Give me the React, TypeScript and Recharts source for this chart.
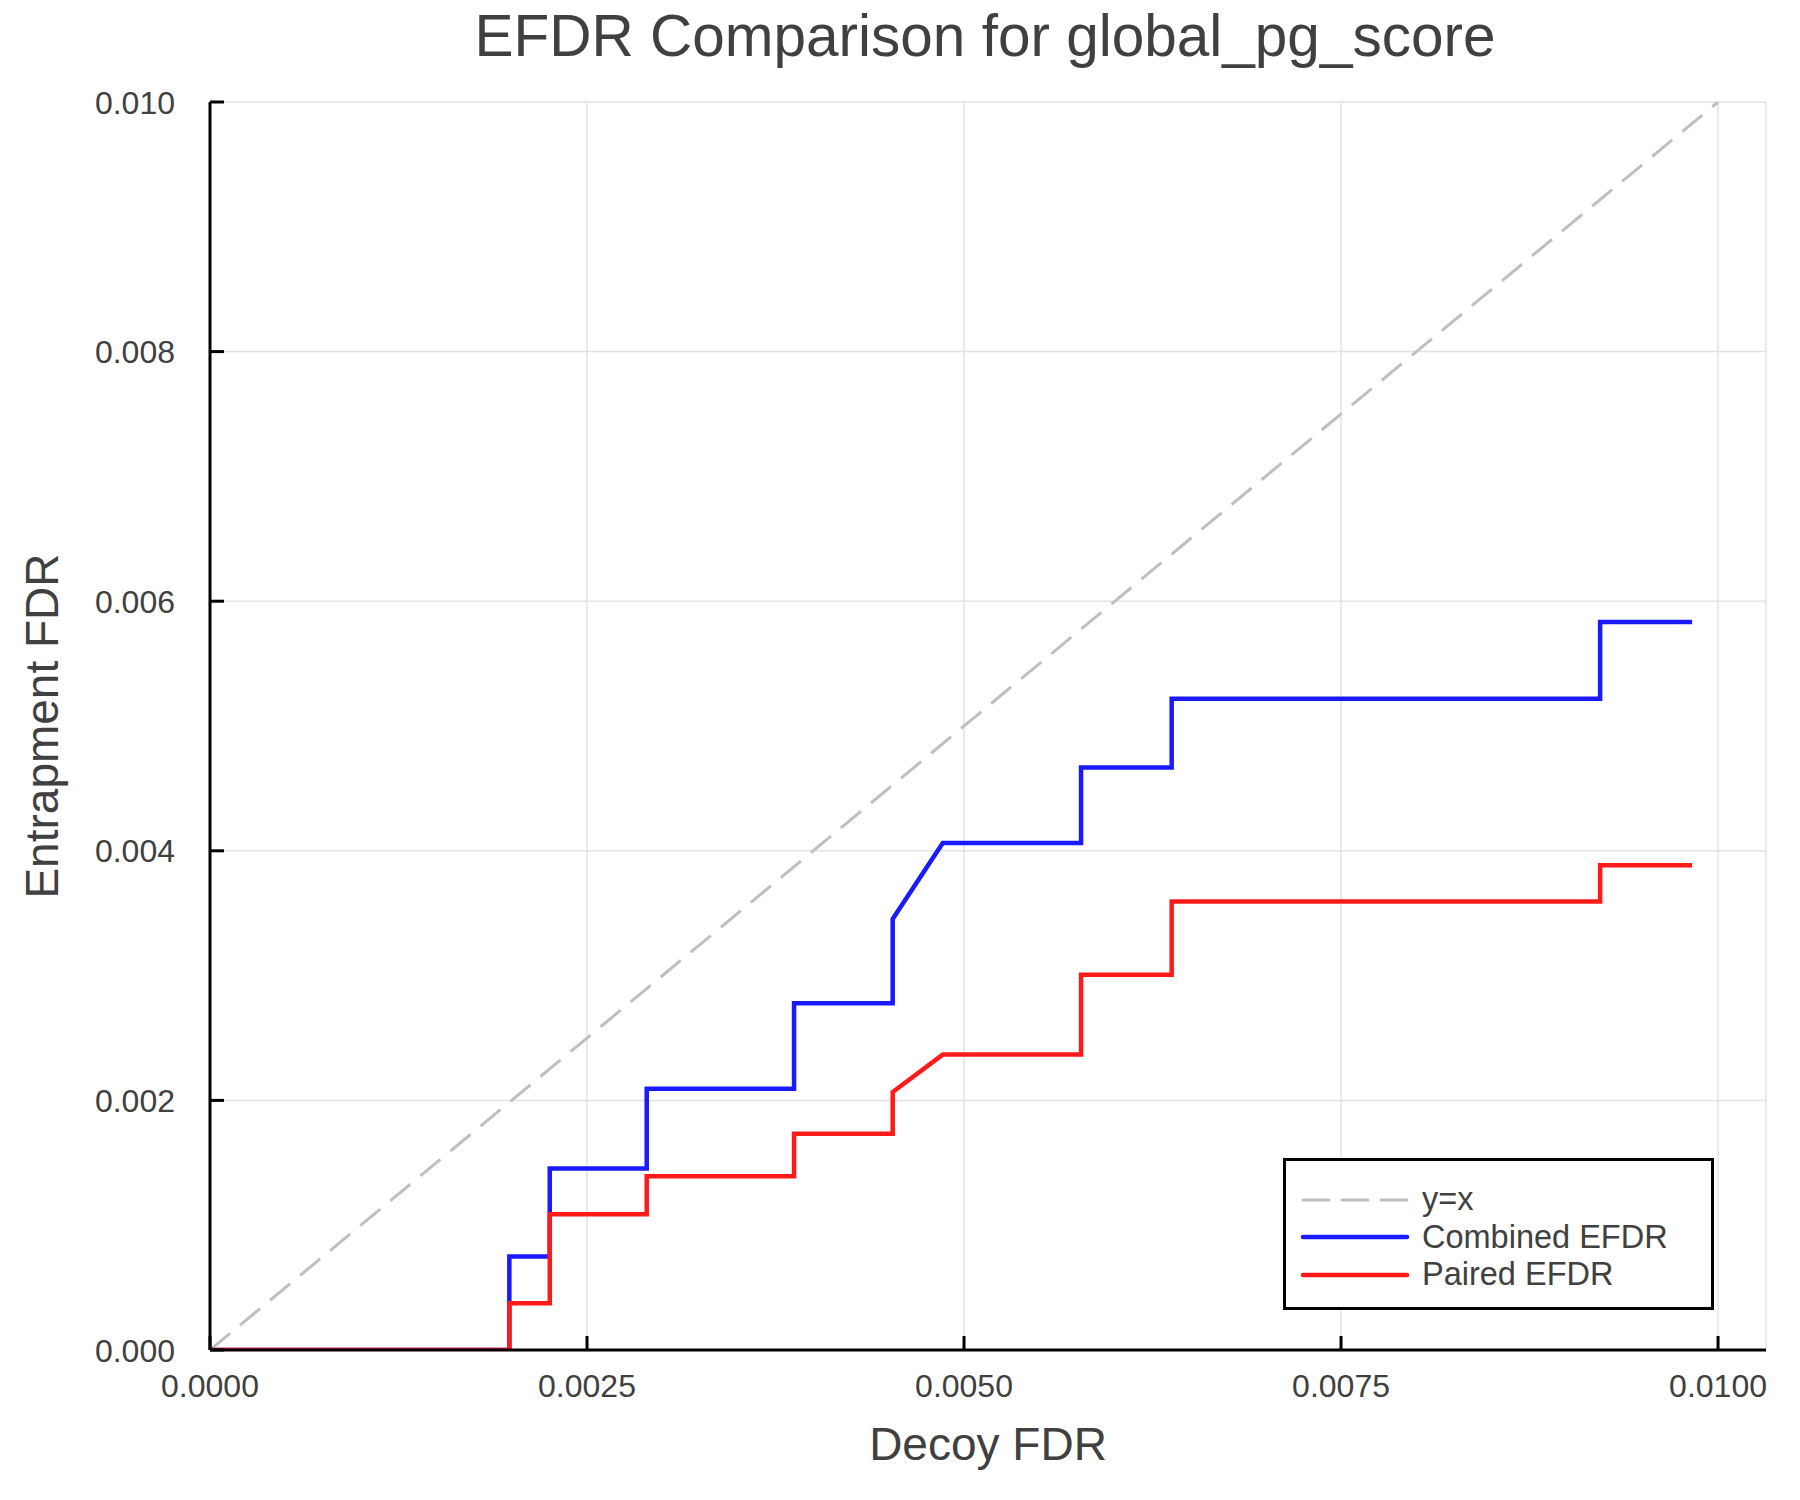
import { LineChart, Line, XAxis, YAxis, CartesianGrid } from 'recharts'

// decoy FDR (x) / entrapment FDR (y)
const combinedX = [0, 0.001985, 0.001985, 0.002253, 0.002253, 0.002896, 0.002896, 0.003873, 0.003873, 0.004527, 0.004527, 0.004859, 0.005776, 0.005776, 0.006377, 0.006377, 0.009218, 0.009218, 0.009828]
const combinedY = [0, 0, 0.00075, 0.00075, 0.001454, 0.001454, 0.002094, 0.002094, 0.002779, 0.002779, 0.003454, 0.004062, 0.004062, 0.004668, 0.004668, 0.005219, 0.005219, 0.005834, 0.005834]

const pairedX = [0, 0.001985, 0.001985, 0.002253, 0.002253, 0.002896, 0.002896, 0.003873, 0.003873, 0.004527, 0.004527, 0.004859, 0.005776, 0.005776, 0.006377, 0.006377, 0.009218, 0.009218, 0.009828]
const pairedY = [0, 0, 0.000375, 0.000375, 0.001087, 0.001087, 0.001392, 0.001392, 0.001732, 0.001732, 0.002067, 0.002367, 0.002367, 0.003007, 0.003007, 0.003593, 0.003593, 0.003885, 0.003885]

const diagX = [0, 0.01]
const diagY = [0, 0.01]

const xTicks = [0, 0.0025, 0.005, 0.0075, 0.01]
const yTicks = [0, 0.002, 0.004, 0.006, 0.008, 0.01]

const toPoints = (xs: number[], ys: number[]) => xs.map((x, i) => ({ x, y: ys[i] }))

const FONT = '"Liberation Sans", Arial, sans-serif'
const TEXT = '#404040'
const TICK_LEN = 14

const series = [
  { name: 'y=x', data: toPoints(diagX, diagY), color: '#bfbfbf', width: 3, dash: '26 13' },
  { name: 'Combined EFDR', data: toPoints(combinedX, combinedY), color: '#1a1aff', width: 4.5, dash: undefined },
  { name: 'Paired EFDR', data: toPoints(pairedX, pairedY), color: '#ff1a1a', width: 4.5, dash: undefined },
]

const XTick = (props: any) => {
  const { x, y, payload } = props
  const axisY = y - 20
  return (
    <g>
      <line x1={x} x2={x} y1={axisY} y2={axisY - TICK_LEN} stroke="#000" strokeWidth={3} />
      <text x={x} y={axisY + 35} dy="0.36em" textAnchor="middle" fontSize={32} fontFamily={FONT} fill={TEXT}>
        {payload.value.toFixed(4)}
      </text>
    </g>
  )
}

const YTick = (props: any) => {
  const { x, y, payload } = props
  const axisX = x + 20
  return (
    <g>
      <line x1={axisX} x2={axisX + TICK_LEN} y1={y} y2={y} stroke="#000" strokeWidth={3} />
      <text x={axisX - 35} y={y} dy="0.36em" textAnchor="end" fontSize={32} fontFamily={FONT} fill={TEXT}>
        {payload.value.toFixed(3)}
      </text>
    </g>
  )
}

const LegendBox = () => (
  <div
    style={{
      position: 'absolute',
      left: 1283,
      top: 1158,
      boxSizing: 'border-box',
      width: 431,
      height: 152,
      border: '3px solid #000',
      background: '#fff',
      paddingTop: 20,
      paddingLeft: 14,
    }}
  >
    {series.map((s) => (
      <div key={s.name} style={{ display: 'flex', alignItems: 'center', height: 37.5 }}>
        <svg width={110} height={10} style={{ marginRight: 12 }}>
          <line
            x1={3}
            x2={107}
            y1={5}
            y2={5}
            stroke={s.color}
            strokeWidth={s.width}
            strokeDasharray={s.dash}
            strokeLinecap="round"
          />
        </svg>
        <span style={{ fontFamily: FONT, fontSize: 32.5, color: TEXT, lineHeight: '37px' }}>{s.name}</span>
      </div>
    ))}
  </div>
)

export default function App() {
  return (
    <div style={{ position: 'absolute', left: 0, top: 0, width: 1800, height: 1500, background: '#fff' }}>
      <div
        style={{
          position: 'absolute',
          left: 200,
          width: 1570,
          top: 2,
          textAlign: 'center',
          fontFamily: FONT,
          fontSize: 58.5,
          lineHeight: '68px',
          color: TEXT,
        }}
      >
        EFDR Comparison for global_pg_score
      </div>
      <LineChart width={1800} height={1500} margin={{ top: 102, right: 34, bottom: 0, left: 0 }}>
        <CartesianGrid stroke="#e3e3e3" strokeWidth={1.5} />
        <XAxis
          type="number"
          dataKey="x"
          domain={[0, 0.010318]}
          ticks={xTicks}
          height={150}
          tickSize={0}
          tickMargin={20}
          tickLine={false}
          tick={<XTick />}
          axisLine={{ stroke: '#000', strokeWidth: 3 }}
          allowDataOverflow
          label={{
            content: (p: any) => (
              <text
                x={p.viewBox.x + p.viewBox.width / 2}
                y={p.viewBox.y + 93}
                dy="0.36em"
                textAnchor="middle"
                fontSize={46}
                fontFamily={FONT}
                fill={TEXT}
              >
                Decoy FDR
              </text>
            ),
          }}
        />
        <YAxis
          type="number"
          dataKey="y"
          domain={[0, 0.01]}
          ticks={yTicks}
          width={210}
          tickSize={0}
          tickMargin={20}
          tickLine={false}
          tick={<YTick />}
          axisLine={{ stroke: '#000', strokeWidth: 3 }}
          allowDataOverflow
          label={{
            content: (p: any) => {
              const cx = p.viewBox.x + 41
              const cy = p.viewBox.y + p.viewBox.height / 2
              return (
                <text
                  x={cx}
                  y={cy}
                  dy="0.36em"
                  textAnchor="middle"
                  transform={`rotate(-90 ${cx} ${cy})`}
                  fontSize={46}
                  fontFamily={FONT}
                  fill={TEXT}
                >
                  Entrapment FDR
                </text>
              )
            },
          }}
        />
        {series.map((s) => (
          <Line
            key={s.name}
            data={s.data}
            dataKey="y"
            name={s.name}
            type="linear"
            stroke={s.color}
            strokeWidth={s.width}
            strokeDasharray={s.dash}
            dot={false}
            activeDot={false}
            isAnimationActive={false}
          />
        ))}
      </LineChart>
      <LegendBox />
    </div>
  )
}
